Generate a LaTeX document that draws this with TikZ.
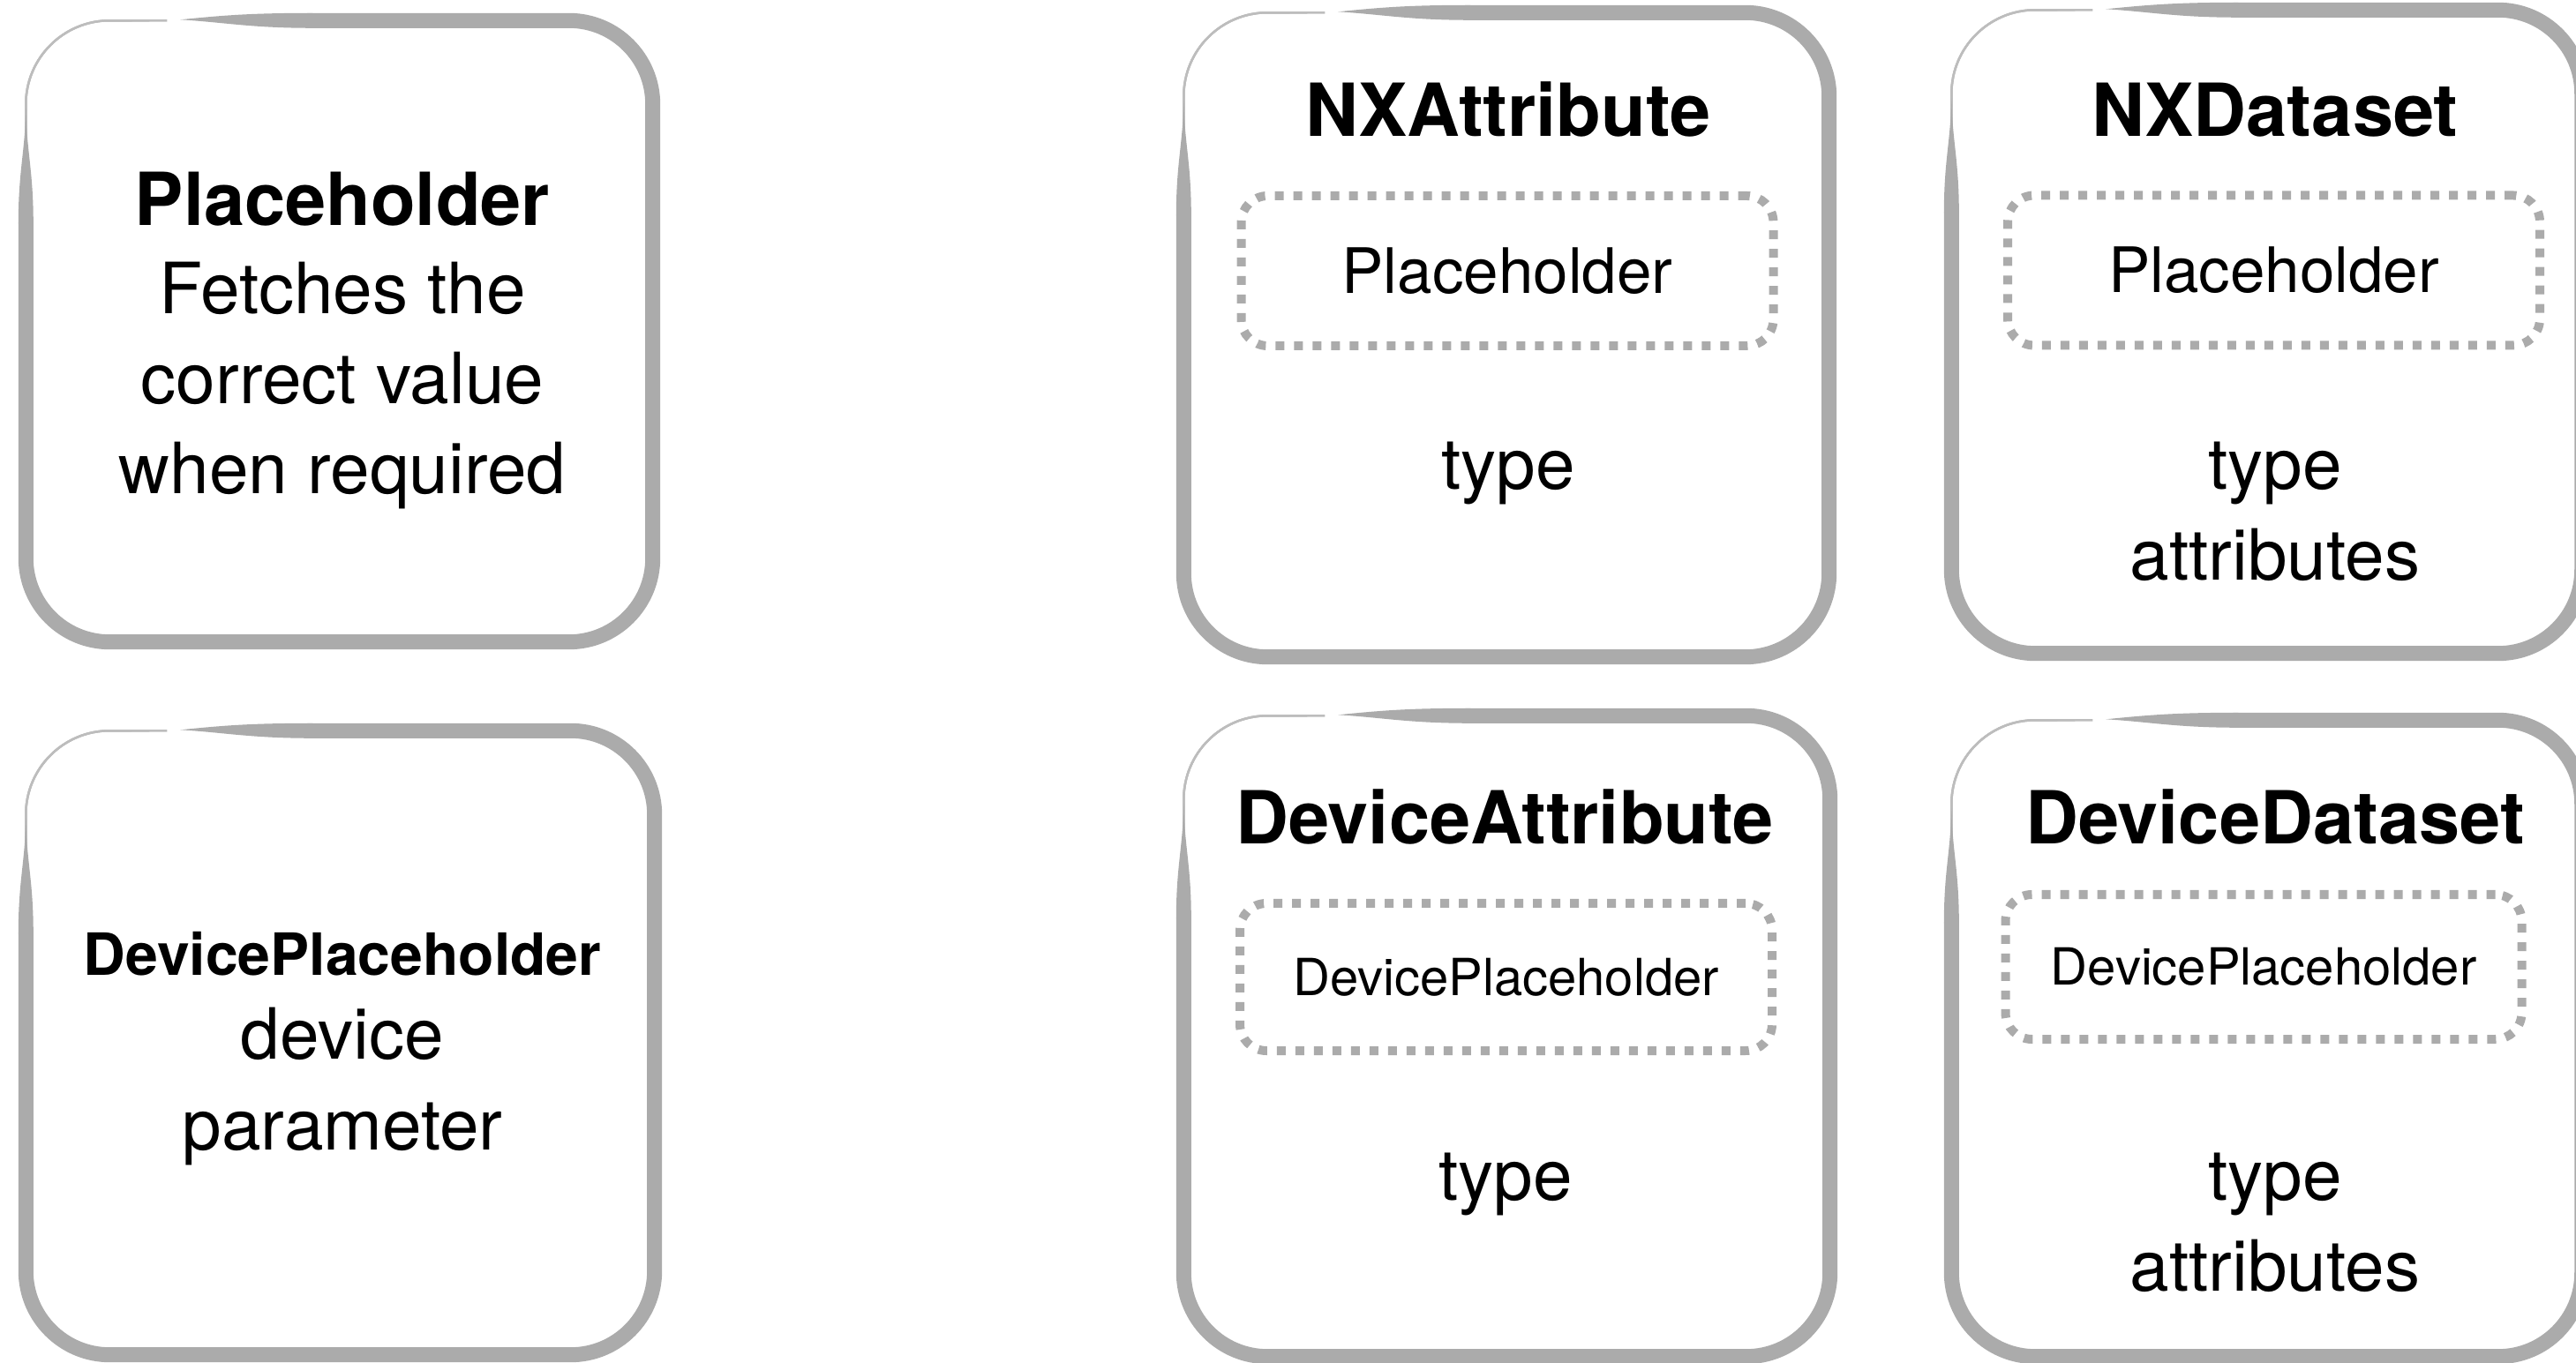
\documentclass[tikz,border=0pt]{standalone}
\usepackage{fontspec}
\setmainfont{TeX Gyre Heros}
\usepackage{tikz}
\usetikzlibrary{calc}
\definecolor{boxgray}{gray}{0.67}
\definecolor{sketchgray}{gray}{0.74}

\begin{document}
\begin{tikzpicture}[
    card/.style={inner sep=0pt, minimum width=7.2cm, minimum height=7.2cm},
    slot/.style={draw=boxgray, line width=0.1cm, dash pattern=on 0.1cm off 0.11cm,
                 rounded corners=0.3cm, inner sep=0pt, minimum width=6.03cm, minimum height=1.7cm},
    title/.style={font=\fontsize{23.6}{28}\selectfont\bfseries, anchor=base, inner sep=0pt},
    body/.style={font=\fontsize{22.8}{28}\selectfont, anchor=base, inner sep=0pt},
    frame/.style={draw=boxgray, line width=0.17cm, rounded corners=0.95cm, line cap=round},
    sketch/.style={draw=sketchgray, line width=0.7pt, rounded corners=0.95cm}
]
    \useasboundingbox (0,0) rectangle (29.19,15.44);

    % Cards
    \node[card, minimum width=7.09cm, minimum height=7.03cm] (ph) at (3.845,11.685) {};
    \node[card, minimum width=7.11cm, minimum height=7.06cm] (dph) at (3.855,3.62) {};
    \node[card, minimum width=7.30cm, minimum height=7.29cm] (nxa) at (17.07,11.645) {};
    \node[card, minimum width=7.13cm, minimum height=7.28cm] (nxd) at (25.685,11.68) {};
    \node[card, minimum width=7.31cm, minimum height=7.25cm] (dva) at (17.075,3.695) {};
    \node[card, minimum width=7.13cm, minimum height=7.20cm] (dvd) at (25.685,3.67) {};

    % Hand drawn borders
    \foreach \c in {ph, dph, nxa, nxd, dva, dvd} {
        \draw[sketch] ($(\c.north west)+(1.6,0)$) -- (\c.north west) -- ($(\c.north west)+(0,-3)$);
        \draw[sketch, xshift=0.6pt, yshift=-0.5pt] ($(\c.north west)+(1.4,0)$) -- (\c.north west) -- ($(\c.north west)+(0,-3)$);
        \draw[sketch, xshift=-0.5pt, yshift=0.4pt] ($(\c.north west)+(1.2,0)$) -- (\c.north west) -- ($(\c.north west)+(0,-2.6)$);
        \draw[frame] ($(\c.north west)+(3.2,0)$) -- (\c.north east) -- (\c.south east)
            -- (\c.south west) -- ($(\c.north west)+(0,-2.3)$);
        \fill[boxgray] ($(\c.north west)+(1.75,0.01)$) .. controls +(0.5,0.05) and +(-0.7,0) .. ($(\c.north west)+(3.25,0.085)$)
            -- ($(\c.north west)+(3.25,-0.085)$) .. controls +(-0.7,0) and +(0.5,-0.03) .. ($(\c.north west)+(1.75,0.01)$);
        \fill[boxgray] ($(\c.north west)+(-0.085,-2.3)$) .. controls +(0,0.6) and +(-0.01,-0.5) .. ($(\c.north west)+(0,-1.0)$)
            .. controls +(0.01,-0.5) and +(0,0.6) .. ($(\c.north west)+(0.085,-2.3)$) -- cycle;
    }

    % Placeholder
    \node[title] (ph-t) at (3.88,12.88) {Placeholder};
    \node[body] (ph-1) at (3.88,11.88) {Fetches the};
    \node[body] (ph-2) at (3.88,10.86) {correct value};
    \node[body] (ph-3) at (3.88,9.84) {when required};

    % DevicePlaceholder
    \node[title, font=\fontsize{18.8}{22}\selectfont\bfseries] (dph-t) at (3.88,4.39) {DevicePlaceholder};
    \node[body] (dph-1) at (3.88,3.44) {device};
    \node[body] (dph-2) at (3.88,2.41) {parameter};

    % NXAttribute
    \node[title] (nxa-t) at (17.09,13.89) {NXAttribute};
    \node[slot, font=\fontsize{20.2}{24}\selectfont] (nxa-s) at (17.08,12.37) {Placeholder};
    \node[body] (nxa-1) at (17.09,9.89) {type};

    % NXDataset
    \node[title] (nxd-t) at (25.78,13.89) {NXDataset};
    \node[slot, font=\fontsize{20.2}{24}\selectfont] (nxd-s) at (25.765,12.375) {Placeholder};
    \node[body] (nxd-1) at (25.78,9.89) {type};
    \node[body] (nxd-2) at (25.78,8.86) {attributes};

    % DeviceAttribute
    \node[title] (dva-t) at (17.05,5.87) {DeviceAttribute};
    \node[slot, minimum height=1.67cm, font=\fontsize{16.5}{20}\selectfont] (dva-s) at (17.065,4.365) {DevicePlaceholder};
    \node[body] (dva-1) at (17.06,1.84) {type};

    % DeviceDataset
    \node[title] (dvd-t) at (25.78,5.87) {DeviceDataset};
    \node[slot, minimum width=5.85cm, minimum height=1.64cm, font=\fontsize{16.5}{20}\selectfont] (dvd-s) at (25.65,4.48) {DevicePlaceholder};
    \node[body] (dvd-1) at (25.78,1.84) {type};
    \node[body] (dvd-2) at (25.78,0.81) {attributes};
\end{tikzpicture}
\end{document}
